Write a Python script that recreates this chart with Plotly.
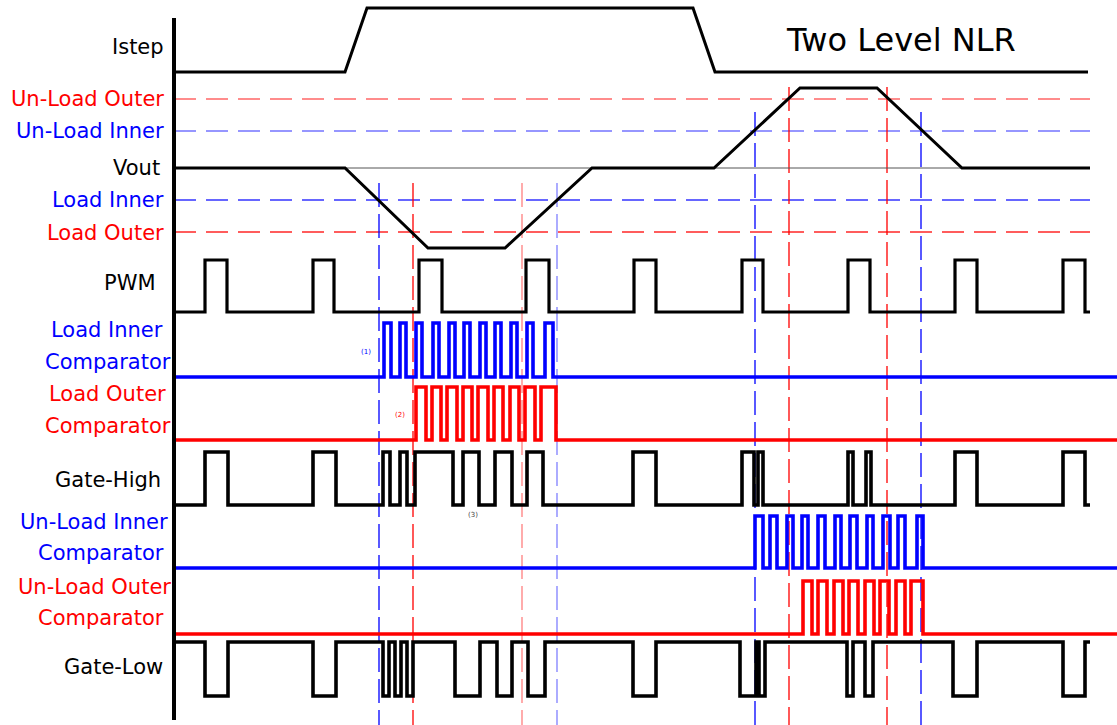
import plotly.graph_objects as go

# ---------------- data (time units along the x axis) ----------------
istep_t = [174, 345, 367, 693, 715, 1088]
istep_lvl = [0, 0, 1, 1, 0, 0]

vout_t = [174, 345, 428, 505, 592, 714, 800, 877, 962, 1090]
vout_dev = [0, 0, -80, -80, 0, 0, 80, 80, 0, 0]

thr_names = ["Un-Load Outer", "Un-Load Inner", "Load Inner", "Load Outer"]
thr_dev = [69, 37, -32, -64]

load_inner_cross = [379, 557]
load_outer_cross = [413, 522]
unload_inner_cross = [755, 921]
unload_outer_cross = [789, 887]

pwm_pulses = [(205, 227), (313, 334), (419, 442), (526, 549), (634, 656),
              (742, 763), (848, 870), (955, 977), (1063, 1085)]
lic_pulses = [(384, 391), (400, 406), (416, 422), (433, 439), (449, 455), (464, 470),
              (480, 486), (495, 501), (511, 517), (527, 533), (545, 553)]
loc_pulses = [(416, 426), (432, 441), (447, 457), (463, 472), (478, 488), (494, 503),
              (510, 519), (525, 535), (541, 556)]
gh_pulses = [(205, 228), (313, 336), (383, 390), (400, 407), (415, 453), (463, 479),
             (495, 512), (527, 543), (633, 656), (742, 754), (758, 763), (848, 853),
             (866, 871), (955, 977), (1063, 1085)]
uic_pulses = [(755, 763), (770, 777), (787, 793), (802, 808), (818, 825), (835, 841),
              (850, 857), (867, 873), (883, 890), (898, 905), (917, 923)]
uoc_pulses = [(803, 812), (818, 827), (834, 843), (849, 858), (865, 874), (880, 889),
              (896, 905), (911, 923)]
gl_pulses = [(205, 228), (313, 336), (383, 389), (395, 401), (407, 413), (455, 480),
             (497, 512), (528, 545), (633, 656), (740, 756), (759, 765), (847, 853),
             (865, 873), (953, 977), (1063, 1085)]

# ---------------- layout constants ----------------
RED, BLUE, BLACK = "#ff0000", "#0000ff", "#000000"
FONT = "DejaVu Sans"
X0 = 174
VOUT_Y = 168


def digital(pulses, y_idle, y_active, x_start, x_end):
    xs, ys = [x_start], [y_idle]
    for r, f in pulses:
        xs += [r, r, f, f]
        ys += [y_idle, y_active, y_active, y_idle]
    xs.append(x_end)
    ys.append(y_idle)
    return xs, ys


fig = go.Figure()

# horizontal threshold dashed lines
thr_colors = ["rgba(255,0,0,0.6)", "rgba(0,0,255,0.55)", "rgba(0,0,255,0.8)", "rgba(255,0,0,0.85)"]
for dev, col in zip(thr_dev, thr_colors):
    fig.add_trace(go.Scatter(x=[X0, 1090], y=[VOUT_Y - dev] * 2, mode="lines",
                             line=dict(color=col, width=1.5, dash="22px,10px"),
                             hoverinfo="skip"))

# vertical crossing lines
vlines = [
    (load_inner_cross[0], 183, "rgba(0,0,255,1)"),
    (load_outer_cross[0], 183, "rgba(255,0,0,1)"),
    (load_outer_cross[1], 183, "rgba(255,0,0,0.5)"),
    (load_inner_cross[1], 183, "rgba(0,0,255,0.5)"),
    (unload_inner_cross[0], 112, "rgba(0,0,255,1)"),
    (unload_outer_cross[0], 87, "rgba(255,0,0,1)"),
    (unload_outer_cross[1], 87, "rgba(255,0,0,1)"),
    (unload_inner_cross[1], 112, "rgba(0,0,255,1)"),
]
for xv, ytop, col in vlines:
    fig.add_trace(go.Scatter(x=[xv, xv], y=[ytop, 725], mode="lines",
                             line=dict(color=col, width=1.3, dash="24px,7px"),
                             hoverinfo="skip"))

# Vout nominal thin line
fig.add_trace(go.Scatter(x=[X0, 1090], y=[VOUT_Y, VOUT_Y], mode="lines",
                         line=dict(color="#555555", width=1), hoverinfo="skip"))

# Istep
fig.add_trace(go.Scatter(x=istep_t, y=[72 - 64 * v for v in istep_lvl], mode="lines",
                         line=dict(color=BLACK, width=3), hoverinfo="skip"))
# Vout
fig.add_trace(go.Scatter(x=vout_t, y=[VOUT_Y - d for d in vout_dev], mode="lines",
                         line=dict(color=BLACK, width=3), hoverinfo="skip"))

# digital rows
rows = [
    (pwm_pulses, 312, 260, 1090, BLACK, 3.2),
    (lic_pulses, 377, 323, 1117, BLUE, 3.6),
    (loc_pulses, 440, 387, 1117, RED, 3.6),
    (gh_pulses, 505, 452, 1090, BLACK, 3.6),
    (uic_pulses, 568, 516, 1117, BLUE, 3.6),
    (uoc_pulses, 634, 581, 1117, RED, 3.6),
    (gl_pulses, 642, 696, 1090, BLACK, 3.6),
]
for pulses, yi, ya, xe, col, w in rows:
    xs, ys = digital(pulses, yi, ya, X0, xe)
    fig.add_trace(go.Scatter(x=xs, y=ys, mode="lines",
                             line=dict(color=col, width=w), hoverinfo="skip"))

# left vertical axis line
fig.add_trace(go.Scatter(x=[X0, X0], y=[18, 720], mode="lines",
                         line=dict(color=BLACK, width=4), hoverinfo="skip"))

# labels
labels = [
    ("Istep", 47, BLACK, 166),
    (thr_names[0], 99, RED, 166),
    (thr_names[1], 131, BLUE, 166),
    ("Vout", 168, BLACK, 162),
    (thr_names[2], 200, BLUE, 166),
    (thr_names[3], 233, RED, 166),
    ("PWM", 283, BLACK, 158),
    ("Load Inner", 330, BLUE, 165),
    ("Comparator", 362, BLUE, 173),
    ("Load Outer", 394, RED, 168),
    ("Comparator", 426, RED, 173),
    ("Gate-High", 480, BLACK, 163),
    ("Un-Load Inner", 522, BLUE, 170),
    ("Comparator", 553, BLUE, 166),
    ("Un-Load Outer", 587, RED, 173),
    ("Comparator", 618, RED, 166),
    ("Gate-Low", 667, BLACK, 165),
]
annotations = []
for txt, y, col, xr in labels:
    annotations.append(dict(x=xr, y=y, text=txt, showarrow=False, xanchor="right",
                            yanchor="middle", font=dict(family=FONT, size=21, color=col)))

annotations.append(dict(x=901, y=40, text="Two Level NLR", showarrow=False,
                        xanchor="center", yanchor="middle",
                        font=dict(family=FONT, size=32, color=BLACK)))
annotations.append(dict(x=366, y=352, text="(1)", showarrow=False,
                        font=dict(family=FONT, size=7, color=BLUE)))
annotations.append(dict(x=400, y=415, text="(2)", showarrow=False,
                        font=dict(family=FONT, size=7, color=RED)))
annotations.append(dict(x=473, y=515, text="(3)", showarrow=False,
                        font=dict(family=FONT, size=7, color="#444444")))

fig.update_layout(
    width=1117, height=725,
    margin=dict(l=0, r=0, t=0, b=0),
    paper_bgcolor="white", plot_bgcolor="white",
    showlegend=False,
    xaxis=dict(range=[0, 1117], visible=False, fixedrange=True),
    yaxis=dict(range=[725, 0], visible=False, fixedrange=True),
    annotations=annotations,
)

fig.write_html("out.html", config={"displayModeBar": False},
               post_script="document.body.style.margin='0px';document.body.style.overflow='hidden';")
